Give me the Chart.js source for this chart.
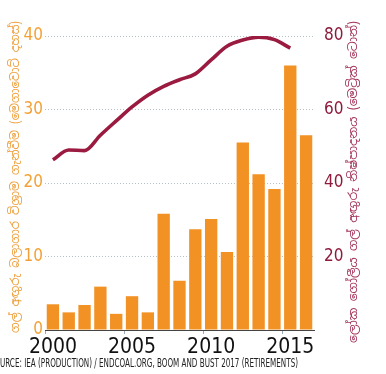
<!DOCTYPE html>
<html>
<head>
<meta charset="utf-8">
<script src="https://cdn.jsdelivr.net/npm/chart.js@4.4.1/dist/chart.umd.min.js"></script>
<style>
  html, body { margin: 0; padding: 0; background: #fff; }
  #wrap { width: 386px; height: 374px; }
</style>
</head>
<body>
<div id="wrap"><canvas id="myChart" width="386" height="374"></canvas></div>
<script>
// data
var years = ['2000','2001','2002','2003','2004','2005','2006','2007','2008','2009','2010','2011','2012','2013','2014','2015','2016'];
var retirements = [3.5, 2.4, 3.4, 5.9, 2.2, 4.6, 2.4, 15.8, 6.7, 13.7, 15.1, 10.6, 25.5, 21.2, 19.2, 36.0, 26.5];
var production = [46.3, 49.0, 48.8, 53.0, 56.9, 60.7, 63.9, 66.3, 68.1, 69.7, 73.5, 77.2, 78.9, 79.7, 79.0, 76.7, null];
var leftTicks = [0, 10, 20, 30, 40];
var rightTicks = [20, 40, 60, 80];

var leftTitle = 'ගල් අඟුරු බලාගාර විශ්‍රාම ගැන්වීම (මෙගාවොට් දහස්)';
var rightTitle = 'ලෝක ගෝලීය ගල් අඟුරු නිෂ්පාදනය (මෙට්‍රික් ටොන්)';
var source = 'SOURCE: IEA (PRODUCTION) / ENDCOAL.ORG, BOOM AND BUST 2017 (RETIREMENTS)';

var orange = '#f29225';
var crimson = '#9a1a40';
var narrow = '"Liberation Sans Narrow", "DejaVu Sans Condensed", sans-serif';

const extras = {
  id: 'extras',
  afterDraw(chart) {
    const ctx = chart.ctx;
    function vtitle(text, x, y, len, color) {
      ctx.save();
      ctx.translate(x, y);
      ctx.rotate(-Math.PI / 2);
      ctx.font = '12px "Noto Sans Sinhala", "Noto Sans", sans-serif';
      var w = ctx.measureText(text).width;
      ctx.scale(len / w, 1);
      ctx.textAlign = 'center';
      ctx.textBaseline = 'middle';
      ctx.fillStyle = color;
      ctx.fillText(text, 0, 0);
      ctx.restore();
    }
    vtitle(leftTitle, 16, 177, 312, '#ee9f3c');
    vtitle(rightTitle, 354, 182, 322, '#a3345a');

    // source line, clipped on the left like the original
    ctx.save();
    ctx.font = '13px ' + narrow;
    var w0 = ctx.measureText('SO').width;
    var w = ctx.measureText(source).width;
    var s = 298 / (w - w0);
    ctx.translate(0, 364);
    ctx.scale(s, 1);
    ctx.fillStyle = '#222';
    ctx.textBaseline = 'middle';
    ctx.fillText(source, -w0, 0);
    ctx.restore();
  }
};

var ctx = document.getElementById('myChart').getContext('2d');
var myChart = new Chart(ctx, {
  data: {
    labels: years,
    datasets: [
      {
        type: 'line',
        data: production,
        yAxisID: 'y2',
        borderColor: crimson,
        borderWidth: 3.6,
        pointRadius: 0,
        cubicInterpolationMode: 'monotone',
        fill: false,
        order: 0
      },
      {
        type: 'bar',
        data: retirements,
        yAxisID: 'y',
        backgroundColor: orange,
        barPercentage: 0.78,
        categoryPercentage: 1.0,
        order: 1
      }
    ]
  },
  plugins: [extras],
  options: {
    responsive: false,
    animation: false,
    layout: { padding: { top: 36, left: 0, right: 0, bottom: 0 } },
    plugins: { legend: { display: false }, tooltip: { enabled: false } },
    scales: {
      x: {
        afterFit(scale) { scale.height = 44; },
        border: { color: '#444', width: 1 },
        grid: {
          drawOnChartArea: false,
          tickLength: 4,
          color: c => (c.index % 5 === 0 ? '#9aa8b0' : 'rgba(0,0,0,0)')
        },
        ticks: {
          autoSkip: false,
          maxRotation: 0,
          padding: 1,
          color: '#111',
          font: { family: narrow, size: 21 },
          callback: function (v, i) { return i % 5 === 0 ? years[i] : ''; }
        }
      },
      y: {
        position: 'left',
        min: 0,
        max: 40,
        afterFit(scale) { scale.width = 45; },
        afterBuildTicks(scale) { scale.ticks = leftTicks.map(v => ({ value: v })); },
        border: { display: false, dash: [1, 2] },
        grid: {
          drawTicks: false,
          color: c => (c.tick.value === 0 ? 'rgba(0,0,0,0)' : '#b4c2c8'),
          lineWidth: 1
        },
        ticks: {
          padding: 2,
          color: '#f3a136',
          font: { family: narrow, size: 17 }
        }
      },
      y2: {
        position: 'right',
        min: 0,
        max: 80,
        afterFit(scale) { scale.width = 72; },
        afterBuildTicks(scale) { scale.ticks = rightTicks.map(v => ({ value: v })); },
        border: { display: false },
        grid: { display: false },
        ticks: {
          padding: 2,
          color: '#8e1a3c',
          font: { family: narrow, size: 17 }
        }
      }
    }
  }
});
</script>
</body>
</html>
